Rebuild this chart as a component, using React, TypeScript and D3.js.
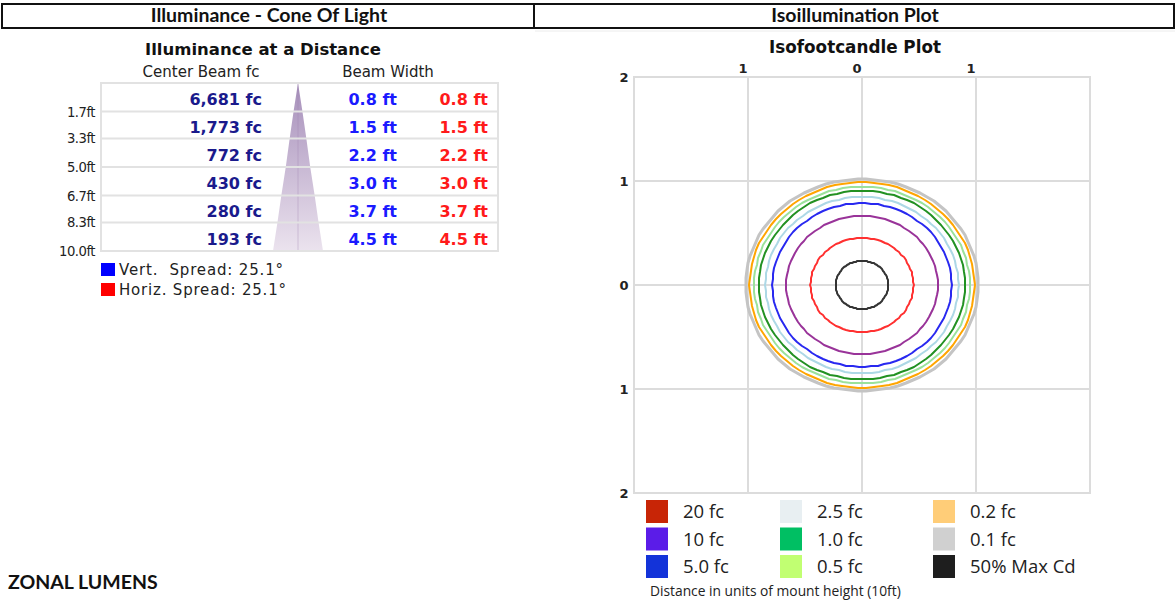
import React from "react";
import * as d3 from "d3";

// ---- Data ----
const distanceFt = [1.7, 3.3, 5.0, 6.7, 8.3, 10.0];
const distanceLabels = ["1.7ft", "3.3ft", "5.0ft", "6.7ft", "8.3ft", "10.0ft"];
const centerBeamFc = [6681, 1773, 772, 430, 280, 193];
const vertBeamWidth = [0.8, 1.5, 2.2, 3.0, 3.7, 4.5];
const horizBeamWidth = [0.8, 1.5, 2.2, 3.0, 3.7, 4.5];
const vertSpread = 25.1;
const horizSpread = 25.1;

const isoLevels = ["0.1 fc", "0.2 fc", "0.5 fc", "1.0 fc", "2.5 fc", "5.0 fc", "10 fc", "20 fc", "50% Max Cd"];
const isoRadii = [1.02, 0.987, 0.946, 0.905, 0.847, 0.787, 0.665, 0.452, 0.232];
const isoLineColors = ["#c4c4c4", "#ffa500", "#9be29b", "#229122", "#add8e6", "#2828f0", "#993399", "#ff3030", "#333333"];

const legendLabels = ["20 fc", "10 fc", "5.0 fc", "2.5 fc", "1.0 fc", "0.5 fc", "0.2 fc", "0.1 fc", "50% Max Cd"];
const legendColors = ["#c82506", "#5b1ce8", "#1333d9", "#e8eff2", "#00bf63", "#c1ff72", "#ffcd78", "#d0d0d0", "#1e1e1e"];

const axisTopTicks = [-1, 0, 1];
const axisLeftTicks = [2, 1, 0, -1, -2];

const verdana = "Verdana, 'DejaVu Sans', sans-serif";
const calibri = "Lato, 'Open Sans', sans-serif";
const legendFont = "'Open Sans', sans-serif";

export default function App() {
  // Cone table scales
  const yDist = d3.scaleLinear().domain([0, 10]).range([83, 251]);
  const coneCx = 298;
  const xCone = d3.scaleLinear().domain([0, 2.25]).range([0, 25]);

  const conePts: [number, number][] = [[coneCx, yDist(0)]];
  distanceFt.forEach((d, i) => conePts.push([coneCx + xCone(horizBeamWidth[i] / 2), yDist(d)]));
  const left: [number, number][] = [];
  distanceFt.forEach((d, i) => left.push([coneCx - xCone(horizBeamWidth[i] / 2), yDist(d)]));
  left.reverse().forEach((p) => conePts.push(p));
  const conePath = d3.line().curve(d3.curveLinearClosed)(conePts) || "";

  const fmt = d3.format(",");

  // Iso plot scales
  const xs = d3.scaleLinear().domain([-2, 2]).range([634, 1090]);
  const ys = d3.scaleLinear().domain([-2, 2]).range([493, 77]);

  const circlePath = (r: number) => {
    const n = 90;
    const pts: [number, number][] = d3.range(n).map((i) => {
      const a = (i / n) * Math.PI * 2;
      return [Math.round(xs(r * Math.cos(a))), Math.round(ys(r * Math.sin(a)))];
    });
    return d3.line().curve(d3.curveLinearClosed)(pts) || "";
  };

  const rowLines = [0, ...distanceFt];

  return (
    <svg width={1175} height={602} style={{ position: "absolute", left: 0, top: 0, background: "#fff" }}>
      <defs>
        <linearGradient id="coneGrad" x1="0" y1="0" x2="0" y2="1">
          <stop offset="0%" stopColor="#a68fba" />
          <stop offset="100%" stopColor="#ebe3ee" />
        </linearGradient>
      </defs>
      <rect width={1175} height={602} fill="#fff" />

      {/* Header boxes */}
      <rect x={2} y={4} width={532} height={24} fill="none" stroke="#111" strokeWidth={2} />
      <rect x={534} y={4} width={640} height={24} fill="none" stroke="#111" strokeWidth={2} />
      <text x={269} y={22} textAnchor="middle" fontFamily={calibri} fontWeight={700} fontSize={19.5} fill="#111">Illuminance - Cone Of Light</text>
      <text x={855} y={22} textAnchor="middle" fontFamily={calibri} fontWeight={700} fontSize={19.5} fill="#111">Isoillumination Plot</text>
      <line x1={535} x2={1175} y1={31} y2={31} stroke="#ececec" strokeWidth={1} />

      {/* Left: Illuminance at a Distance */}
      <text x={263} y={55} textAnchor="middle" fontFamily={verdana} fontWeight={700} fontSize={16.5} fill="#111">Illuminance at a Distance</text>
      <text x={201} y={77} textAnchor="middle" fontFamily={verdana} fontSize={15} fill="#222">Center Beam fc</text>
      <text x={388} y={77} textAnchor="middle" fontFamily={verdana} fontSize={15} fill="#222">Beam Width</text>

      <path d={conePath} fill="url(#coneGrad)" />
      <line x1={coneCx} x2={coneCx} y1={yDist(0)} y2={yDist(10)} stroke="#9a82ad" strokeOpacity={0.35} strokeWidth={1} />

      <rect x={101} y={yDist(0)} width={397} height={yDist(10) - yDist(0)} fill="none" stroke="#e2e2e2" strokeWidth={2} />
      {rowLines.slice(1, -1).map((d, i) => (
        <line key={i} x1={101} x2={498} y1={yDist(d)} y2={yDist(d)} stroke="#e2e2e2" strokeWidth={2} />
      ))}

      {distanceFt.map((d, i) => {
        const top = yDist(rowLines[i]);
        const bot = yDist(d);
        const cy = (top + bot) / 2 + 8;
        return (
          <g key={i} fontFamily={verdana} fontWeight={700} fontSize={16}>
            <text x={262} y={cy} textAnchor="end" fill="#1a1a8c">{fmt(centerBeamFc[i])} fc</text>
            <text x={397} y={cy} textAnchor="end" fill="#1a1aff">{vertBeamWidth[i].toFixed(1)} ft</text>
            <text x={488} y={cy} textAnchor="end" fill="#ff1a1a">{horizBeamWidth[i].toFixed(1)} ft</text>
            <text x={95} y={bot + 5} textAnchor="end" fontWeight={400} fontSize={13.2} fill="#222" letterSpacing={-0.5}>{distanceLabels[i]}</text>
          </g>
        );
      })}

      <rect x={101} y={263} width={14} height={13} fill="#0000ff" />
      <text x={119} y={275} fontFamily={verdana} fontSize={15} fill="#222" xmlSpace="preserve" textLength={164} lengthAdjust="spacing">{`Vert.  Spread: ${vertSpread}°`}</text>
      <rect x={101} y={283} width={14} height={13} fill="#ff0000" />
      <text x={119} y={295} fontFamily={verdana} fontSize={15} fill="#222" textLength={167} lengthAdjust="spacing">{`Horiz. Spread: ${horizSpread}°`}</text>

      <text x={8} y={589} fontFamily={calibri} fontWeight={700} fontSize={19.5} fill="#111">ZONAL LUMENS</text>

      {/* Right: Isofootcandle plot */}
      <text x={855} y={53} textAnchor="middle" fontFamily={verdana} fontWeight={700} fontSize={16.8} fill="#111">Isofootcandle Plot</text>
      <rect x={xs(-2)} y={ys(2)} width={xs(2) - xs(-2)} height={ys(-2) - ys(2)} fill="#fff" stroke="#dcdcdc" strokeWidth={2} />
      {[-1, 0, 1].map((v) => (
        <g key={v}>
          <line x1={xs(v)} x2={xs(v)} y1={ys(2)} y2={ys(-2)} stroke="#dcdcdc" strokeWidth={2} />
          <line x1={xs(-2)} x2={xs(2)} y1={ys(v)} y2={ys(v)} stroke="#dcdcdc" strokeWidth={2} />
        </g>
      ))}
      {axisTopTicks.map((v, i) => (
        <text key={i} x={xs(v) - 5} y={73} textAnchor="middle" fontFamily={verdana} fontWeight={700} fontSize={13} fill="#222">{Math.abs(v)}</text>
      ))}
      {axisLeftTicks.map((v, i) => (
        <text key={i} x={624} y={ys(v) + 5} textAnchor="middle" fontFamily={verdana} fontWeight={700} fontSize={13} fill="#222">{Math.abs(v)}</text>
      ))}

      {isoRadii.map((r, i) => (
        <path key={i} d={circlePath(r)} fill="none" stroke={isoLineColors[i]} strokeWidth={i === 0 ? 3 : 2} strokeLinejoin="round" />
      ))}

      {/* Legend */}
      {legendLabels.map((lab, i) => {
        const col = Math.floor(i / 3);
        const row = i % 3;
        const sx = [646, 780, 933][col];
        const sy = 500 + row * 27.5;
        return (
          <g key={i}>
            <rect x={sx} y={sy} width={22} height={23} fill={legendColors[i]} />
            <text x={sx + 37} y={sy + 18} fontFamily={legendFont} fontSize={18.5} fill="#222">{lab}</text>
          </g>
        );
      })}
      <text x={650} y={596} fontFamily={legendFont} fontSize={13.8} fill="#222">Distance in units of mount height (10ft)</text>
    </svg>
  );
}
